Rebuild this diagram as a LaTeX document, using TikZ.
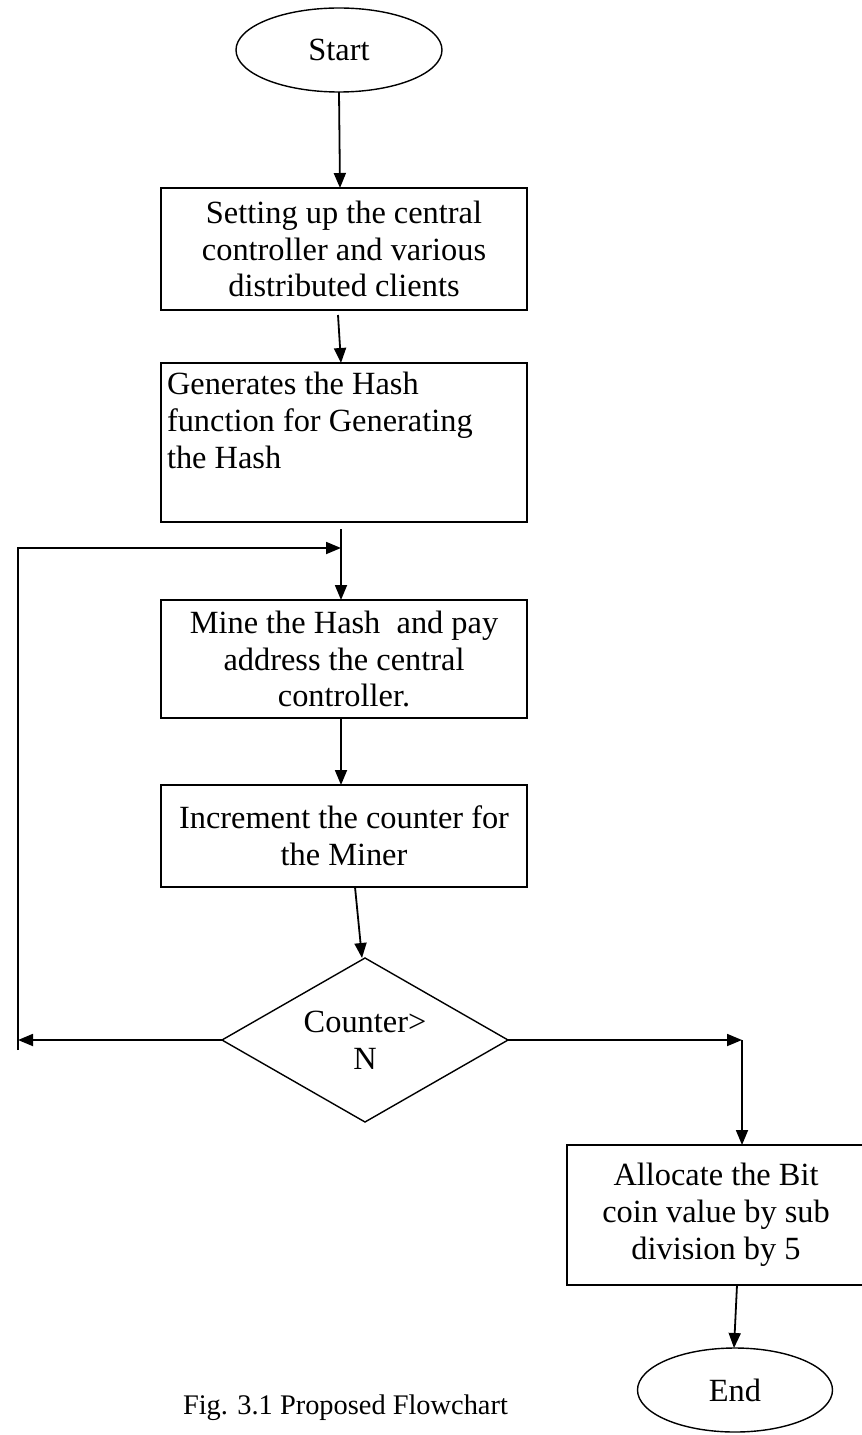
\documentclass[tikz,border=0pt]{standalone}
\usepackage{fontspec}
\setmainfont{Liberation Serif}
\usetikzlibrary{shapes.geometric,arrows.meta}
\begin{document}
\begin{tikzpicture}[x=1bp,y=-1bp,
  every node/.style={inner sep=0pt,outer sep=0pt},
  txt/.style={font=\fontsize{32.5}{37}\selectfont,align=center},
  procbox/.style={draw,line width=1.8bp,rectangle,txt},
  terminal/.style={draw,line width=1.4bp,ellipse,txt},
  decision/.style={draw,line width=1.4bp,diamond,txt},
  flow/.style={line width=1.8bp,-{Triangle[length=15bp,width=12bp]}},
  plain/.style={line width=1.8bp}]
\useasboundingbox (0,0) rectangle (861,1435);

% terminals
\node[terminal,minimum width=206bp,minimum height=84bp] (start) at (339,50) {Start};
\node[terminal,minimum width=195bp,minimum height=84bp] (end) at (735,1390) {End};

% process steps
\node[procbox,minimum width=366bp,minimum height=122bp] (b1) at (344,249)
  {Setting up the central\\controller and various\\distributed clients};
\node[procbox,minimum width=366bp,minimum height=159bp] (b2) at (344,442.5) {};
\node[txt,align=left,anchor=north west] (b2t) at (167,372)
  {Generates the Hash\\function for Generating\\the Hash};
\node[procbox,minimum width=366bp,minimum height=118bp] (b3) at (344,659)
  {Mine the Hash\ \ and pay\\address the central\\controller.};
\node[procbox,minimum width=366bp,minimum height=102bp] (b4) at (344,836)
  {Increment the counter for\\the Miner};
\node[decision,minimum width=286bp,minimum height=164bp,aspect=1.75] (d) at (365,1040)
  {Counter>\\N};
\node[procbox,minimum width=298bp,minimum height=140bp] (b5) at (716,1215)
  {Allocate the Bit\\coin value by sub\\division by 5};

% caption
\node[font=\fontsize{28.5}{34}\selectfont,anchor=west] (cap)
  at (183,1408) {Fig. 3.1 Proposed Flowchart};

% loop-back and branch points
\coordinate (lb) at (18,1050);
\coordinate (lt) at (18,548);
\coordinate (la) at (18,1040);
\coordinate (jn) at (341,548);
\coordinate (rj) at (742,1040);

% main flow
\draw[flow] (start.south) -- ([xshift=-4bp]b1.north);
\draw[flow] ([xshift=-6bp,yshift=-5bp]b1.south) -- ([xshift=-3bp]b2.north);
\draw[flow] ([xshift=-3bp,yshift=-7bp]b2.south) -- ([xshift=-3bp]b3.north);
\draw[flow] ([xshift=-3bp]b3.south) -- ([xshift=-3bp]b4.north);
\draw[flow] ([xshift=11bp]b4.south) -- ([xshift=-3bp]d.north);

% counter not reached: back to mining
\draw[flow] (d.west) -- (la);
\draw[plain] (lb) -- ([yshift=-0.9bp]lt);
\draw[flow] ([xshift=-0.9bp]lt) -- (jn);

% counter reached: allocate and finish
\draw[flow] (d.east) -- (rj);
\draw[flow] (rj) -- (rj |- b5.north);
\draw[flow] ([xshift=21bp]b5.south) -- ([xshift=-1bp]end.north);
\end{tikzpicture}
\end{document}
